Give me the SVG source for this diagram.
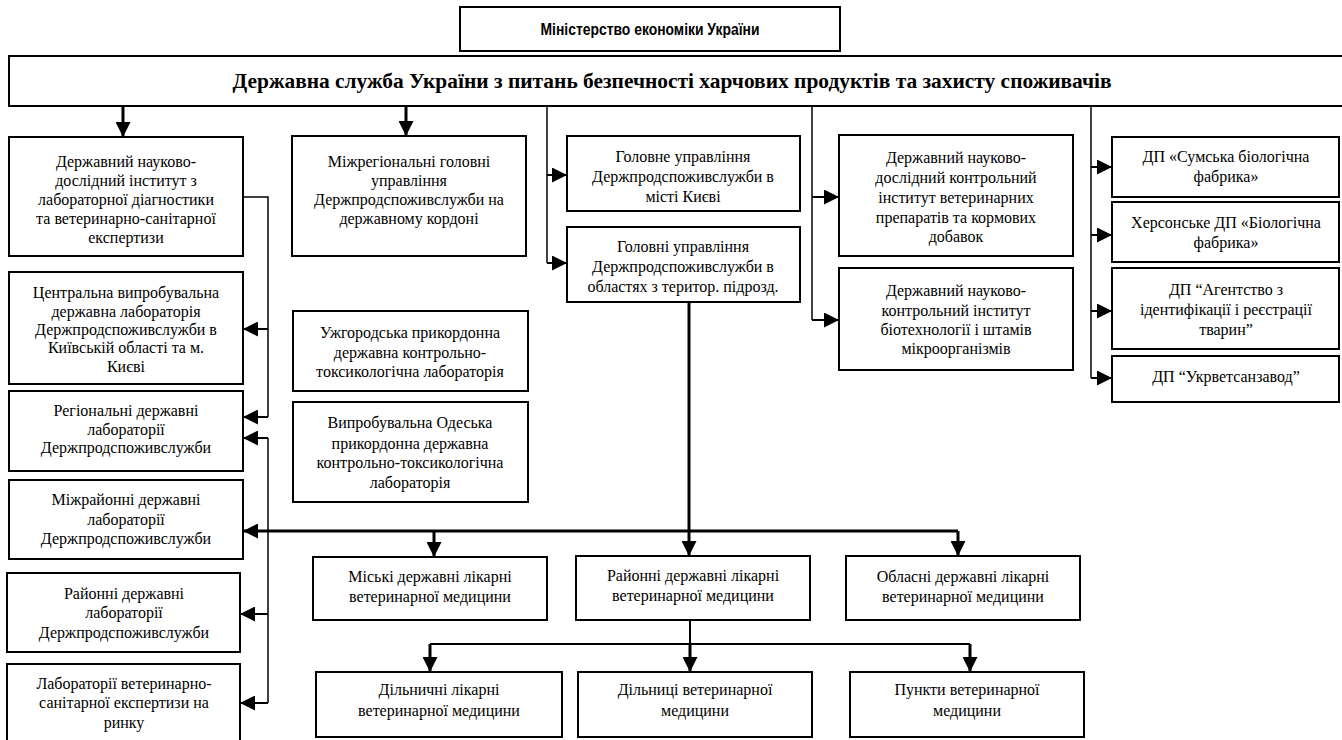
<svg xmlns="http://www.w3.org/2000/svg" width="1342" height="740" viewBox="0 0 1342 740">
<defs>
<marker id="ah" markerUnits="userSpaceOnUse" markerWidth="15" markerHeight="15" refX="15" refY="7.5" orient="auto"><path d="M0,0 L15,7.5 L0,15 z" fill="#000"/></marker>
</defs>
<style>
rect{fill:#fff;stroke:#000;stroke-width:2}
text{font-family:"Liberation Serif","Times New Roman",serif;font-size:16px;fill:#000;text-anchor:middle}
.hdr{font-family:"Liberation Sans",Arial,sans-serif;font-weight:bold;font-size:16px}
.main{font-weight:bold;font-size:21.5px}
.c{fill:none;stroke:#000;stroke-width:1.5}
.t{fill:none;stroke:#000;stroke-width:3}
.m{fill:none;stroke:#000;stroke-width:2}
.a{marker-end:url(#ah)}
</style>
<rect width="1342" height="740" style="fill:#fff;stroke:none"/>
<g id="connectors">
<path class="t a" d="M123,106 V137"/>
<path class="t a" d="M406,106 V136"/>
<path class="c" d="M547,106 V263"/>
<path class="m a" d="M547,175 H567"/>
<path class="m a" d="M547,263 H567"/>
<path class="c" d="M812,106 V320"/>
<path class="m a" d="M812,197 H839"/>
<path class="m a" d="M812,320 H839"/>
<path class="c" d="M1091,106 V378"/>
<path class="m a" d="M1091,167 H1112"/>
<path class="m a" d="M1091,235 H1112"/>
<path class="m a" d="M1091,311 H1112"/>
<path class="m a" d="M1091,378 H1112"/>
<path class="c" d="M243,197 H268 V417"/>
<path class="m a" d="M268,417 H243"/>
<path class="m a" d="M268,329 H243"/>
<path class="c" d="M268,438 V703"/>
<path class="m a" d="M268,438 H243"/>
<path class="m a" d="M268,614 H240"/>
<path class="m a" d="M268,703 H240"/>
<path class="t" d="M689,302 V531"/>
<path class="t a" d="M958,531 H243"/>
<path class="t a" d="M434,531 V557"/>
<path class="t a" d="M689,531 V556"/>
<path class="t a" d="M958,531 V556"/>
<path class="m" d="M690,620 V644"/>
<path class="m" d="M430,644 H970"/>
<path class="t a" d="M430,644 V672"/>
<path class="t a" d="M690,644 V672"/>
<path class="t a" d="M970,644 V672"/>
</g>
<g id="ministry"><rect x="460" y="7" width="380" height="44"/><text class="hdr" x="650" y="35" textLength="219" lengthAdjust="spacingAndGlyphs">Міністерство економіки України</text></g>
<g id="service"><rect x="9" y="56" width="1345" height="50"/><text class="main" x="672" y="88" textLength="879" lengthAdjust="spacingAndGlyphs">Державна служба України з питань безпечності харчових продуктів та захисту споживачів</text></g>
<g id="n1"><rect x="9" y="137" width="234" height="119"/>
<text x="126" y="167">Державний науково-</text><text x="126" y="186">дослідний інститут з</text><text x="126" y="205">лабораторної діагностики</text><text x="126" y="224">та ветеринарно-санітарної</text><text x="126" y="243">експертизи</text></g>
<g id="n2"><rect x="9" y="272" width="234" height="112"/>
<text x="126" y="298">Центральна випробувальна</text><text x="126" y="317">державна лабораторія</text><text x="126" y="335">Держпродспоживслужби в</text><text x="126" y="353">Київській області та м.</text><text x="126" y="372">Києві</text></g>
<g id="n3"><rect x="9" y="391" width="234" height="80"/>
<text x="126" y="416">Регіональні державні</text><text x="126" y="435">лабораторії</text><text x="126" y="453">Держпродспоживслужби</text></g>
<g id="n4"><rect x="9" y="480" width="234" height="79"/>
<text x="126" y="505">Міжрайонні державні</text><text x="126" y="525">лабораторії</text><text x="126" y="544">Держпродспоживслужби</text></g>
<g id="n5"><rect x="7" y="573" width="233" height="79"/>
<text x="124" y="599">Районні державні</text><text x="124" y="618">лабораторії</text><text x="124" y="638">Держпродспоживслужби</text></g>
<g id="n6"><rect x="7" y="664" width="233" height="78"/>
<text x="124" y="689">Лабораторії ветеринарно-</text><text x="124" y="708">санітарної експертизи на</text><text x="124" y="728">ринку</text></g>
<g id="n7"><rect x="292" y="136" width="234" height="120"/>
<text x="409" y="167">Міжрегіональні головні</text><text x="409" y="186">управління</text><text x="409" y="205">Держпродспоживслужби на</text><text x="409" y="224">державному кордоні</text></g>
<g id="n8"><rect x="293" y="311" width="235" height="80"/>
<text x="410" y="338">Ужгородська прикордонна</text><text x="410" y="358">державна контрольно-</text><text x="410" y="377">токсикологічна лабораторія</text></g>
<g id="n9"><rect x="293" y="402" width="235" height="100"/>
<text x="410" y="428">Випробувальна Одеська</text><text x="410" y="449">прикордонна державна</text><text x="410" y="468">контрольно-токсикологічна</text><text x="410" y="488">лабораторія</text></g>
<g id="n10"><rect x="567" y="136" width="233" height="75"/>
<text x="683" y="162">Головне управління</text><text x="683" y="182">Держпродспоживслужби в</text><text x="683" y="202">місті Києві</text></g>
<g id="n11"><rect x="567" y="227" width="233" height="75"/>
<text x="683" y="252">Головні управління</text><text x="683" y="272">Держпродспоживслужби в</text><text x="683" y="292">областях з територ. підрозд.</text></g>
<g id="n12"><rect x="839" y="135" width="234" height="121"/>
<text x="956" y="163">Державний науково-</text><text x="956" y="183">дослідний контрольний</text><text x="956" y="203">інститут ветеринарних</text><text x="956" y="223">препаратів та кормових</text><text x="956" y="242">добавок</text></g>
<g id="n13"><rect x="839" y="268" width="234" height="102"/>
<text x="956" y="296">Державний науково-</text><text x="956" y="316">контрольний інститут</text><text x="956" y="335">біотехнології і штамів</text><text x="956" y="354">мікроорганізмів</text></g>
<g id="n14"><rect x="1112" y="137" width="227" height="60"/>
<text x="1226" y="162">ДП «Сумська біологічна</text><text x="1226" y="182">фабрика»</text></g>
<g id="n15"><rect x="1112" y="202" width="227" height="60"/>
<text x="1226" y="228">Херсонське ДП «Біологічна</text><text x="1226" y="248">фабрика»</text></g>
<g id="n16"><rect x="1112" y="268" width="227" height="81"/>
<text x="1226" y="295">ДП “Агентство з</text><text x="1226" y="315">ідентифікації і реєстрації</text><text x="1226" y="335">тварин”</text></g>
<g id="n17"><rect x="1112" y="356" width="227" height="46"/>
<text x="1226" y="382">ДП “Укрветсанзавод”</text></g>
<g id="n18"><rect x="313" y="557" width="234" height="63"/>
<text x="430" y="582">Міські державні лікарні</text><text x="430" y="602">ветеринарної медицини</text></g>
<g id="n19"><rect x="576" y="556" width="234" height="64"/>
<text x="693" y="581">Районні державні лікарні</text><text x="693" y="601">ветеринарної медицини</text></g>
<g id="n20"><rect x="846" y="556" width="234" height="64"/>
<text x="963" y="582">Обласні державні лікарні</text><text x="963" y="602">ветеринарної медицини</text></g>
<g id="n21"><rect x="316" y="672" width="246" height="65"/>
<text x="439" y="695">Дільничні лікарні</text><text x="439" y="716">ветеринарної медицини</text></g>
<g id="n22"><rect x="578" y="672" width="234" height="65"/>
<text x="695" y="695">Дільниці ветеринарної</text><text x="695" y="716">медицини</text></g>
<g id="n23"><rect x="850" y="672" width="234" height="65"/>
<text x="967" y="695">Пункти ветеринарної</text><text x="967" y="716">медицини</text></g>
</svg>
